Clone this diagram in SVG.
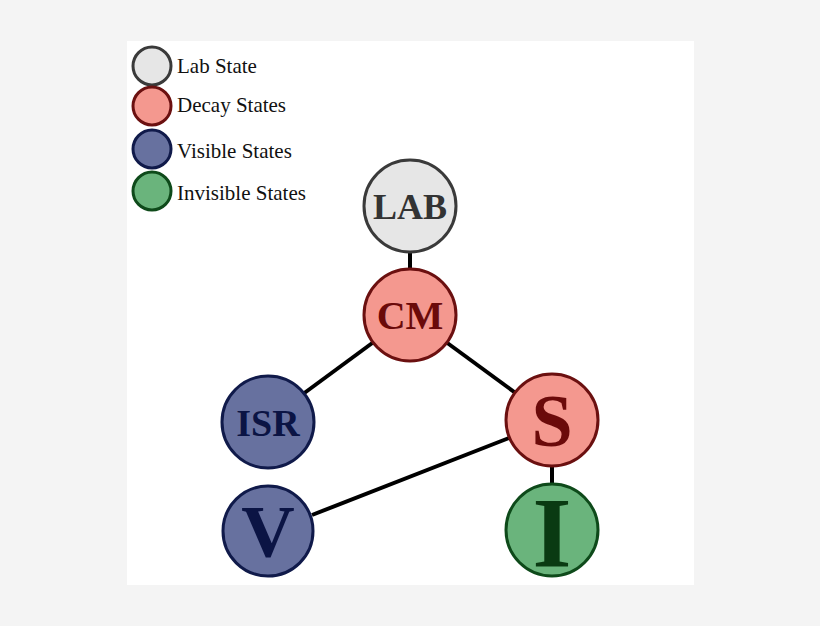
<svg xmlns="http://www.w3.org/2000/svg" width="820" height="626" viewBox="0 0 820 626">
<style>
.lab{fill:#e6e6e6;stroke:#3a3a3a;stroke-width:3}
.dec{fill:#f4988f;stroke:#6b1010;stroke-width:3}
.vis{fill:#67719f;stroke:#101a4a;stroke-width:3}
.inv{fill:#6ab47c;stroke:#0e4a1a;stroke-width:3}
.lt{font-family:"Liberation Serif",serif;font-size:21px;fill:#111}
.nt{font-family:"Liberation Serif",serif;font-weight:bold;text-anchor:middle}
.edge{stroke:#000;stroke-width:4}
</style>
<rect width="820" height="626" fill="#f4f4f4"/>
<rect x="127" y="41" width="567" height="544" fill="#fff"/>
<g id="legend">
<circle class="lab" cx="152" cy="66" r="19"/><text class="lt" x="177" y="73">Lab State</text>
<circle class="dec" cx="152" cy="106" r="19"/><text class="lt" x="177" y="112">Decay States</text>
<circle class="vis" cx="152" cy="149" r="19"/><text class="lt" x="177" y="158">Visible States</text>
<circle class="inv" cx="152" cy="191" r="19"/><text class="lt" x="177" y="200">Invisible States</text>
</g>
<g id="connectors">
<line class="edge" x1="410" y1="252" x2="410" y2="269"/>
<line class="edge" x1="375" y1="341" x2="303" y2="394"/>
<line class="edge" x1="446" y1="342" x2="517" y2="394"/>
<line class="edge" x1="552" y1="466" x2="552" y2="484"/>
<line class="edge" x1="509" y1="438" x2="312" y2="515"/>
</g>
<g id="LAB"><circle class="lab" cx="410" cy="206" r="46"/><text class="nt" x="410" y="219" font-size="36" fill="#333">LAB</text></g>
<g id="CM"><circle class="dec" cx="410" cy="315" r="46"/><text class="nt" x="410" y="329" font-size="40" fill="#6b0a0a">CM</text></g>
<g id="ISR"><circle class="vis" cx="268" cy="422" r="46"/><text class="nt" x="268" y="436" font-size="38" fill="#0b1444">ISR</text></g>
<g id="S"><circle class="dec" cx="552" cy="420" r="46"/><text class="nt" x="552" y="446" font-size="74" fill="#6b0a0a">S</text></g>
<g id="V"><circle class="vis" cx="268" cy="531" r="45"/><text class="nt" x="268" y="557" font-size="74" fill="#0b1444">V</text></g>
<g id="I"><circle class="inv" cx="552" cy="530" r="46"/><text class="nt" x="552" y="566" font-size="100" fill="#0a3a12">I</text></g>
</svg>
